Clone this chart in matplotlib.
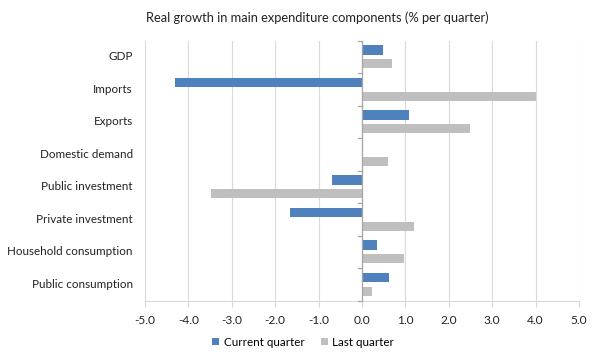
import numpy as np
import matplotlib.pyplot as plt

categories = ["GDP", "Imports", "Exports", "Domestic demand", "Public investment",
              "Private investment", "Household consumption", "Public consumption"]
current_q = [0.48, -4.32, 1.09, 0.0, -0.69, -1.65, 0.34, 0.62]
last_q = [0.68, 4.0, 2.48, 0.59, -3.48, 1.2, 0.96, 0.24]
xticks = [-5, -4, -3, -2, -1, 0, 1, 2, 3, 4, 5]

plt.rcParams['font.family'] = ['Lato', 'DejaVu Sans']

fig = plt.figure(figsize=(6, 3.61), dpi=100)
ax = fig.add_axes([145 / 600, 1 - 300.7 / 361, 434 / 600, 260 / 361])

y = np.arange(len(categories))
h = 0.28
off = 0.215
ax.barh(y - off, current_q, height=h, color='#4f81bd', label='Current quarter', zorder=3)
ax.barh(y + off, last_q, height=h, color='#bfbfbf', label='Last quarter', zorder=3)

ax.set_xlim(-5, 5)
ax.set_ylim(len(categories) - 0.5, -0.5)
ax.set_xticks(xticks)
ax.set_xticklabels(['%.1f' % v for v in xticks], fontsize=8.6, color='#222222')
ax.set_yticks([])
for i, c in enumerate(categories):
    ax.text(-5.28, i, c, ha='right', va='center', fontsize=8.4, color='#222222')

ax.grid(axis='x', color='#d9d9d9', linewidth=0.8, zorder=0)
for s in ['top', 'right', 'left']:
    ax.spines[s].set_visible(False)
ax.spines['bottom'].set_color('#d9d9d9')
ax.tick_params(axis='x', length=4, color='#d9d9d9', pad=6)
ax.axvline(0, color='#a6a6a6', linewidth=0.9, zorder=4)
for b in np.arange(len(categories) + 1) - 0.5:
    ax.plot([-0.1, 0], [b, b], color='#a6a6a6', linewidth=0.9, zorder=4, clip_on=False)

fig.text(317 / 600, 1 - 18 / 361, "Real growth in main expenditure components (% per quarter)",
         ha='center', va='center', fontsize=9.3, color='#222222')
fig.legend(loc='center', bbox_to_anchor=(303 / 600, 1 - 342 / 361), ncol=2, frameon=False,
           fontsize=8.4, handlelength=0.6, handleheight=0.6, handletextpad=0.4, columnspacing=1.4)

fig.savefig('out.png', dpi=100)
